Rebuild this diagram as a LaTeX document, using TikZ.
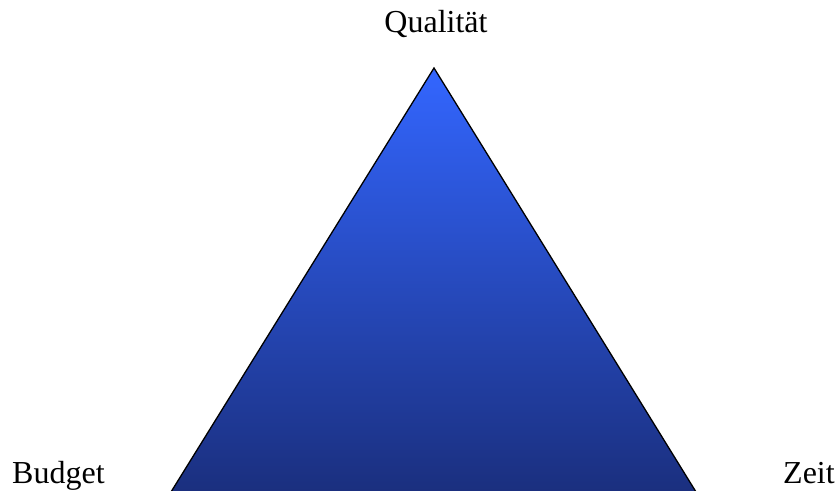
\documentclass[tikz,border=0pt]{standalone}
\usepackage{fontspec}
\setmainfont{Liberation Serif}
\definecolor{topblue}{HTML}{3366FF}
\definecolor{botblue}{HTML}{1A2E7C}
\begin{document}
\begin{tikzpicture}[x=1pt,y=1pt,
  lbl/.style={font=\fontsize{32}{37}\selectfont, text=black, inner sep=0pt, anchor=base}]
\useasboundingbox (0,0) rectangle (840,490);
\clip (0,0) rectangle (840,490);
\coordinate (apex) at (434,422);
\coordinate (bl) at (166,-10);
\coordinate (br) at (701,-10);
\shade[top color=topblue, bottom color=botblue, draw=black, line width=1.3pt, line join=miter]
  (apex) -- (bl) -- (br) -- cycle;
\node[lbl] (q) at (436,457) {Qualität};
\node[lbl, anchor=base west] (b) at (12,7) {Budget};
\node[lbl, anchor=base west] (z) at (783,7) {Zeit};
\end{tikzpicture}
\end{document}
